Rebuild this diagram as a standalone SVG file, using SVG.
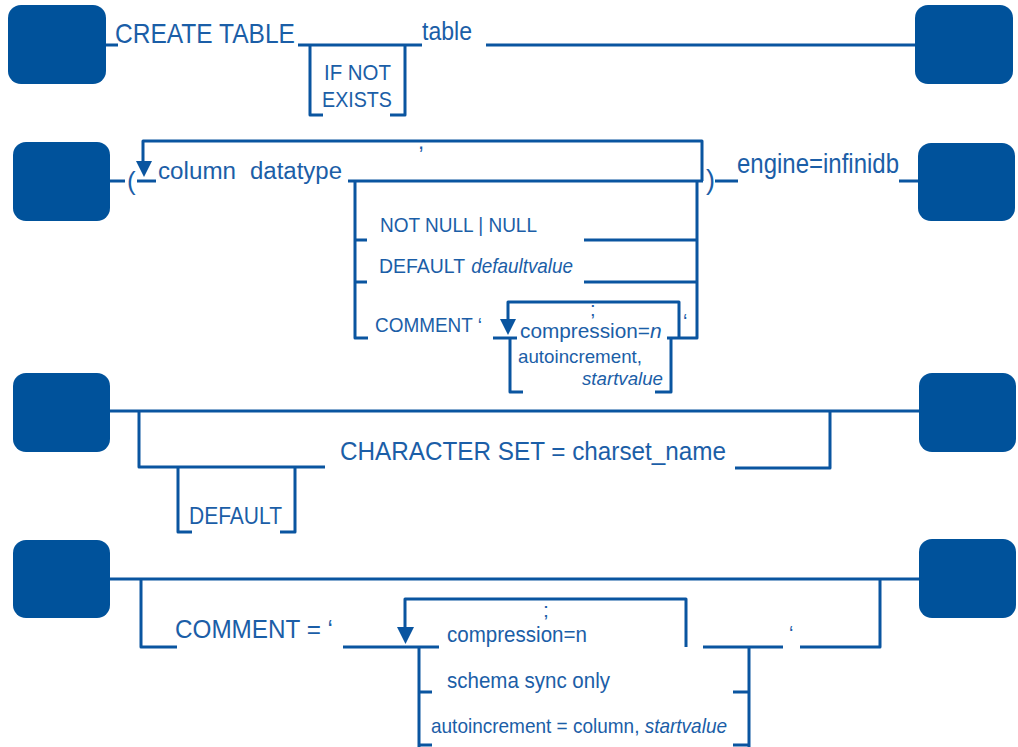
<svg xmlns="http://www.w3.org/2000/svg" width="1018" height="747" viewBox="0 0 1018 747">
<style>
.box{fill:#00529b;}
.ln{fill:none;stroke:#0a55a0;stroke-width:3;stroke-linecap:butt;stroke-linejoin:round;}
.ar{fill:#0a55a0;}
text{font-family:"Liberation Sans",Arial,sans-serif;fill:#1b5ea7;}
.it{font-style:italic;}
</style>
<rect width="1018" height="747" fill="#ffffff"/>
<g id="start1"><rect class="box" x="8" y="5" width="98" height="79" rx="13"/></g>
<g id="end1"><rect class="box" x="915" y="5" width="98" height="79" rx="13"/></g>
<g id="start2"><rect class="box" x="13" y="142" width="97" height="79" rx="13"/></g>
<g id="end2"><rect class="box" x="918" y="143" width="97" height="78" rx="13"/></g>
<g id="start3"><rect class="box" x="13" y="373" width="97" height="79" rx="13"/></g>
<g id="end3"><rect class="box" x="919" y="373" width="97" height="79" rx="13"/></g>
<g id="start4"><rect class="box" x="13" y="540" width="97" height="78" rx="13"/></g>
<g id="end4"><rect class="box" x="919" y="539" width="97" height="79" rx="13"/></g>

<g id="connectors">
<!-- row 1 -->
<path class="ln" d="M106,45 H118 M298,45 H422 M486,45 H915"/>
<path class="ln" d="M323,115 H310 V45 M390,115 H405 V45"/>
<!-- row 2 -->
<path class="ln" d="M110,181 H125 M715,181 H738 M899,181 H918"/>
<path class="ln" d="M143,162 V141 H702 V181 M348,181 H703"/>
<polygon class="ar" points="136,161 152,161 144,177"/>
<path class="ln" d="M137,181 H156"/>
<path class="ln" d="M367,240 H355 M367,282 H355 M355,181 V338 H368"/>
<path class="ln" d="M584,240 H697 M584,282 H697 M697,181 V338 H667"/>
<path class="ln" d="M508,320 V302 H679 V338"/>
<polygon class="ar" points="500,319 516,319 508,335"/>
<path class="ln" d="M493,338 H517"/>
<path class="ln" d="M523,392 H510 V338 M655,392 H671 V338"/>
<!-- row 3 -->
<path class="ln" d="M110,411 H919"/>
<path class="ln" d="M139,411 V467 H325 M735,468 H830 V411"/>
<path class="ln" d="M192,532 H178 V467 M280,532 H295 V467"/>
<!-- row 4 -->
<path class="ln" d="M110,579 H919"/>
<path class="ln" d="M141,579 V647 H177 M343,647 H439"/>
<path class="ln" d="M405,628 V599 H686 V647"/>
<polygon class="ar" points="397,627 414,627 405.5,644"/>
<path class="ln" d="M419,647 V747 M419,692 H432 M419,745 H432"/>
<path class="ln" d="M703,647 H783 M749,647 V747 M733,692 H749 M733,745 H749"/>
<path class="ln" d="M800,647 H880 V579"/>
</g>

<g id="labels">
<text x="115" y="43" font-size="28" textLength="180" lengthAdjust="spacingAndGlyphs">CREATE TABLE</text>
<text x="422" y="40" font-size="26" textLength="50" lengthAdjust="spacingAndGlyphs">table</text>
<text x="324" y="80" font-size="22" textLength="67" lengthAdjust="spacingAndGlyphs">IF NOT</text>
<text x="322" y="107" font-size="22" textLength="70" lengthAdjust="spacingAndGlyphs">EXISTS</text>

<text x="127" y="190" font-size="26">(</text>
<text x="158" y="179" font-size="23"><tspan textLength="78" lengthAdjust="spacingAndGlyphs">column</tspan><tspan x="250" textLength="92" lengthAdjust="spacingAndGlyphs">datatype</tspan></text>
<text x="418" y="149" font-size="22">,</text>
<text x="706" y="189" font-size="27">)</text>
<text x="737" y="173" font-size="27" textLength="162" lengthAdjust="spacingAndGlyphs">engine=infinidb</text>
<text x="380" y="232" font-size="21" textLength="157" lengthAdjust="spacingAndGlyphs">NOT NULL | NULL</text>
<text x="379" y="273" font-size="21"><tspan textLength="86" lengthAdjust="spacingAndGlyphs">DEFAULT</tspan><tspan class="it" x="466" textLength="107" lengthAdjust="spacingAndGlyphs"> defaultvalue</tspan></text>
<text x="375" y="332" font-size="21" textLength="107" lengthAdjust="spacingAndGlyphs">COMMENT ‘</text>
<text x="590" y="316" font-size="20">;</text>
<text x="683" y="328" font-size="20">‘</text>
<text x="520" y="338" font-size="21"><tspan textLength="130" lengthAdjust="spacingAndGlyphs">compression=</tspan><tspan class="it">n</tspan></text>
<text x="518" y="363" font-size="19" textLength="124" lengthAdjust="spacingAndGlyphs">autoincrement,</text>
<text class="it" x="582" y="385" font-size="19" textLength="81" lengthAdjust="spacingAndGlyphs">startvalue</text>

<text x="340" y="460" font-size="25" textLength="386" lengthAdjust="spacingAndGlyphs">CHARACTER SET = charset_name</text>
<text x="189" y="524" font-size="23" textLength="93" lengthAdjust="spacingAndGlyphs">DEFAULT</text>

<text x="175" y="638" font-size="26" textLength="158" lengthAdjust="spacingAndGlyphs">COMMENT = ‘</text>
<text x="543" y="617" font-size="21">;</text>
<text x="447" y="642" font-size="22" textLength="140" lengthAdjust="spacingAndGlyphs">compression=n</text>
<text x="447" y="688" font-size="22" textLength="163" lengthAdjust="spacingAndGlyphs">schema sync only</text>
<text x="431" y="733" font-size="21" textLength="296" lengthAdjust="spacingAndGlyphs">autoincrement = column, <tspan class="it">startvalue</tspan></text>
<text x="789" y="640" font-size="20">‘</text>
</g>
</svg>
